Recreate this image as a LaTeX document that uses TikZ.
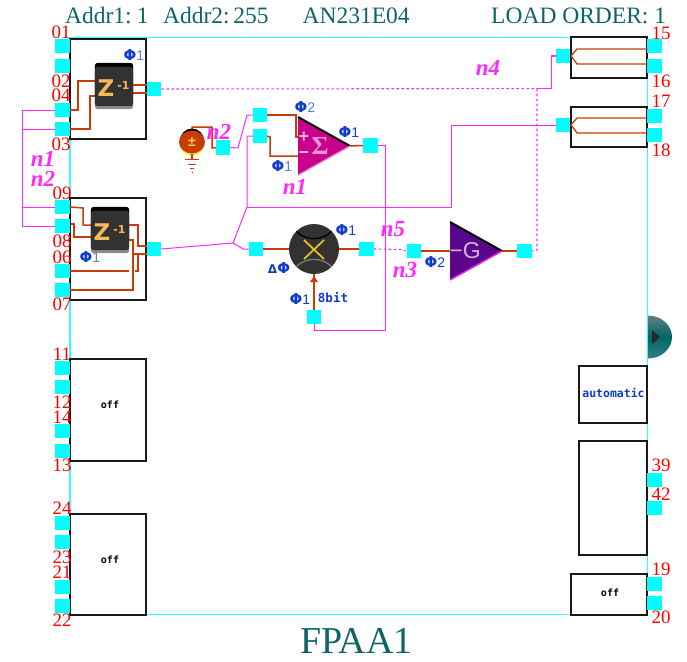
\documentclass[tikz,border=0pt]{standalone}
\usepackage{fontspec}
\setmainfont{Liberation Serif}
\newfontfamily\djv{DejaVu Sans}
\newfontfamily\djm{DejaVu Sans Mono}
\newfontfamily\lsans{Liberation Sans}
\usetikzlibrary{calc}
\definecolor{padc}{RGB}{0,255,255}
\definecolor{framec}{RGB}{50,255,255}
\definecolor{wirec}{RGB}{200,60,10}
\definecolor{netc}{RGB}{255,40,255}
\definecolor{tealc}{RGB}{15,100,105}
\definecolor{phic}{RGB}{15,60,200}
\definecolor{phid}{RGB}{90,125,220}
\definecolor{iconc}{RGB}{50,50,50}
\definecolor{zc}{RGB}{245,185,90}
\definecolor{sumc}{RGB}{200,0,140}
\definecolor{gainc}{RGB}{90,5,140}
\newcommand{\phil}[1]{{\djv\bfseries\fontsize{15}{15}\selectfont Φ}{\lsans\fontsize{14}{14}\selectfont #1}}
\tikzset{
 x=1pt,y=-1pt,
 pad/.style={fill=padc,minimum size=14.5pt,inner sep=0pt,outer sep=0pt,draw=none},
 blockbox/.style={draw=black!90,line width=1.4pt,fill=white,inner sep=0pt,outer sep=0pt},
 wire/.style={draw=wirec,line width=1.5pt},
 net/.style={draw=netc,line width=1pt},
 netdot/.style={draw=netc,line width=1.1pt,dash pattern=on 2.5pt off 2.5pt},
 pinl/.style={text=red,font=\fontsize{19}{19}\selectfont,inner sep=0pt},
 netl/.style={text=netc,font=\fontsize{23}{23}\selectfont\bfseries\itshape,inner sep=0pt},
 phil/.style={text=phic,inner sep=0pt},
 headl/.style={text=tealc,font=\fontsize{23.5}{23.5}\selectfont,inner sep=0pt,anchor=base west},
 offl/.style={text=black,font=\djm\bfseries\fontsize{10}{10}\selectfont,inner sep=0pt},
}
\begin{document}
\begin{tikzpicture}
\useasboundingbox (0,0) rectangle (687,661);
\fill[white] (0,0) rectangle (687,661);
% side ball
\coordinate (ballc) at (648,337);
\begin{scope}
\clip (648,315) rectangle (673,359);
\shade[top color=gray!80!teal,bottom color=gray!40!teal,middle color=teal!80!black] (ballc) ellipse [x radius=24,y radius=21.5];
\end{scope}
\fill[black!85] (652,330) -- (660,337) -- (652,344) -- cycle;
% frame
\draw[framec,line width=1.8pt] (70,37.5) rectangle (647.5,614.5);
% blocks
\node[blockbox,minimum width=76pt,minimum height=100pt] (b1) at (108,89) {};
\node[blockbox,minimum width=76pt,minimum height=102pt] (b2) at (108,249) {};
\node[blockbox,minimum width=76pt,minimum height=102pt] (b3) at (108,410) {};
\node[blockbox,minimum width=76pt,minimum height=101pt] (b4) at (108,564.5) {};
\node[blockbox,minimum width=76pt,minimum height=41pt] (b5) at (609,57.5) {};
\node[blockbox,minimum width=76pt,minimum height=40pt] (b6) at (609,127) {};
\node[blockbox,minimum width=68pt,minimum height=57pt] (b7) at (613,394.5) {};
\node[blockbox,minimum width=68pt,minimum height=114pt] (b8) at (613,498) {};
\node[blockbox,minimum width=76pt,minimum height=41pt] (b9) at (609,594.5) {};
% pads
\foreach \n/\y in {01/46,02/66,04/110,03/129,09/207,08/226,06/271,07/290,11/368,12/387,14/431,13/451,24/523,23/542,21/587,22/606}
  \node[pad] (p\n) at (62.5,\y) {};
\foreach \n/\y in {15/46,16/66,17/116,18/135,39/480,42/508,19/584,20/603}
  \node[pad] (p\n) at (654.5,\y) {};
\node[pad] (oz1) at (154,89) {};
\node[pad] (oz2) at (154,249) {};
\node[pad] (isrc) at (223,147.5) {};
\node[pad] (ia) at (260,115) {};
\node[pad] (ib) at (260,136) {};
\node[pad] (osum) at (370.5,145.5) {};
\node[pad] (imul) at (256,249) {};
\node[pad] (omul) at (366.5,249) {};
\node[pad] (bmul) at (314,317) {};
\node[pad] (ig) at (414,251) {};
\node[pad] (og) at (524.5,251) {};
\node[pad] (ir1) at (563,56) {};
\node[pad] (ir2) at (563,125) {};
% nets
\draw[net] (p04.west) -- (22,110) -- (22,226) -- (p08.west);
\draw[net] (p03.west) -- (22,129);
\draw[net] (p09.west) -- (22,207);
\coordinate (jn) at (233,243);
\coordinate (jt) at (247,207);
\draw[net] (oz2.east) -- (jn) -- (243,249) -- (imul.west);
\draw[net] (jn) -- (jt) -- (247,136) -- (ib.west);
\draw[net] (jt) -- (451,207) -- (451,125) -- (ir2.west);
\draw[net] (isrc.east) -- (238,148) -- (247,115) -- (ia.west);
\draw[net] (osum.east) -- (385,145.5) -- (385,330) -- (314,330) -- (bmul.south);
\draw[netdot] (oz1.east) -- (537,88.6);
\draw[net] (537,88.6) -- (551,88.6) -- (551,56) -- (ir1.west);
\draw[netdot] (537,88.6) -- (537,250) -- (og.east);
\draw[netdot] (omul.east) -- (402,249.5) -- (ig.west);
% red wiring block 1
\node[minimum width=38pt,minimum height=46pt,inner sep=0pt] (z1bg) at (114,86) {};
\draw[wire] (p04.east) -- (78,110) -- (78,81) -- (95,81);
\draw[wire] (p03.east) -- (90,129) -- (90,96) -- (95,96);
\draw[wire] (133,85) -- (oz1.west |- 0,85);
\draw[wire] (133,93) -- (oz1.west |- 0,93);
% block 2
\draw[wire] (p09.east) -- (83,208) -- (83,225) -- (92,225);
\draw[wire] (71,224) -- (74,224) -- (74,237) -- (92,237);
\draw[wire] (129,225) -- (138,225) -- (138,246) -- (147,246);
\draw[wire] (129,240) -- (133,240) -- (133,290) -- (p07.east);
\draw[wire] (133,254) -- (147,254);
\draw[wire] (p06.east) -- (129,271);
\draw[wire] (135,271) -- (138,271) -- (138,254);
\node[minimum width=38pt,minimum height=46pt,inner sep=0pt] (z2bg) at (110,230) {};
\foreach \c in {z1bg,z2bg}{
 \fill[black,rounded corners=3pt] (\c.north west) rectangle ($(\c.south east)+(0,-10)$);
 \fill[gray!90,rounded corners=3pt] ($(\c.north west)+(0,8)$) rectangle (\c.south east);
 \fill[iconc,rounded corners=3pt] ($(\c.north west)+(0,4)$) rectangle ($(\c.south east)+(0,-3)$);
 \node[text=zc,font=\djv\bfseries\fontsize{23}{23}\selectfont,inner sep=0pt] at ($(\c.center)+(-8,2.5)$) {Z};
 \node[text=zc,font=\djv\bfseries\fontsize{11}{11}\selectfont,inner sep=0pt] at ($(\c.center)+(9.5,-1)$) {-1};
}
% right block wiring
\coordinate (r1) at (571,56);
\coordinate (r2) at (571,125);
\draw[wire,line width=1.3pt] (p15.west |- 0,49) -- (577,49) -- (r1) -- (577,64) -- (p16.west |- 0,64);
\draw[wire,line width=1.3pt] (p17.west |- 0,118) -- (577,118) -- (r2) -- (577,133) -- (p18.west |- 0,133);
% source
\coordinate (srcc) at (192,142);
\draw[wire] (192,130) -- (192,127) -- (212,127) -- (212,148) -- (isrc.west);
\fill[black] (srcc) ++(0,-1.5) circle (12);
\fill[yellow] (srcc) ++(0,1.5) circle (12);
\fill[wirec] (srcc) ellipse (13 and 11.5);
\node[text=yellow!75!orange,font=\lsans\bfseries\fontsize{14}{14}\selectfont,inner sep=0pt] at (srcc) {±};
\draw[wire] (192,154) -- (192,159);
\draw[wire,line width=1pt] (185,159.5) -- (199,159.5) (188,164) -- (196,164) (190,168) -- (194,168) (191.5,172) -- (192.5,172);
% sum
\coordinate (sA) at (298,117);
\coordinate (sB) at (298,175);
\coordinate (sC) at (350,146);
\draw[wire] (ia.east) -- (296,115) -- (296,137) -- (298,137);
\draw[wire] (ib.east) -- (270,137) -- (270,156) -- (298,156);
\draw[wire] (sC) -- (osum.west);
\fill[sumc] (sA) -- (sC) -- (sB) -- cycle;
\draw[black,line width=2pt] (sA) -- (sC);
\draw[sumc!50!white,line width=1.2pt] (sB) -- (sC);
\node[text=white!70!sumc,font=\lsans\bfseries\fontsize{18}{18}\selectfont,inner sep=0pt] at (304,137) {+};
\node[text=white!70!sumc,font=\lsans\bfseries\fontsize{18}{18}\selectfont,inner sep=0pt] at (304,155) {−};
\node[text=white!60!sumc,font=\bfseries\fontsize{26}{26}\selectfont,inner sep=0pt] at (320,146) {Σ};
% multiplier
\node[circle,fill=iconc,minimum size=50pt,inner sep=0pt,outer sep=0pt] (mul) at (314,249) {};
\draw[wire] (imul.east) -- (mul.west);
\draw[wire] (mul.east) -- (omul.west);
\draw[wire] (bmul.north) -- (mul.south);
\fill[wirec] (314,276) -- (310,282) -- (318,282) -- cycle;
\draw[gray,line width=1.2pt] (mul.south west) arc [start angle=225,end angle=315,radius=25];
\draw[black,line width=1.4pt] (mul.north west) arc [start angle=135,end angle=45,radius=25];
\draw[yellow!65!orange!90!black,line width=1.8pt] (304,240) -- (324,259) (324,240) -- (304,259);
% gain
\coordinate (gA) at (450,222);
\coordinate (gB) at (450,280);
\coordinate (gC) at (502,251);
\draw[wire] (ig.east) -- (451,251);
\draw[wire] (gC) -- (og.west);
\fill[gainc] (gA) -- (gC) -- (gB) -- cycle;
\draw[black,line width=2pt] (gA) -- (gC);
\draw[netc!90!black,line width=1.5pt] (gB) -- (gC);
\node[text=white!70!gainc,font=\lsans\fontsize{23}{23}\selectfont,inner sep=0pt] at (465,251) {−G};
% pin labels
\foreach \n/\x/\y in {01/61/32,02/61/81,04/61/95,03/61/144,09/62/193,08/62/241,06/62/257,07/62/304,11/62/354,12/62/402,14/62/417,13/62/465,24/62/508,23/62/557,21/62/572,22/62/620,15/661/33,16/661/81,17/661/101,18/661/150,39/661/465,42/661/494,19/661/569,20/661/617}
  \node[pinl] (t\n) at (\x,\y) {\n};
% net labels
\node[netl] (ln1a) at (43,159) {n1};
\node[netl] (ln2a) at (43,179) {n2};
\node[netl] (ln2b) at (219,132) {n2};
\node[netl] (ln1b) at (295,187) {n1};
\node[netl] (ln5) at (393,229) {n5};
\node[netl] (ln3) at (405,270) {n3};
\node[netl] (ln4) at (488,68) {n4};
% clocks
\node[phil] (c1) at (134,55) {\phil{\textcolor{phid}{1}}};
\node[phil] (c2) at (90,257) {\phil{\textcolor{phid}{1}}};
\node[phil] (c3) at (305,107) {\phil{\textcolor{phid}{2}}};
\node[phil] (c4) at (349,132) {\phil{1}};
\node[phil] (c5) at (282,166) {\phil{\textcolor{phid}{1}}};
\node[phil] (c6) at (346,230) {\phil{1}};
\node[phil] (c7) at (279,268) {{\djv\bfseries\fontsize{12}{12}\selectfont Δ}{\djv\bfseries\fontsize{15}{15}\selectfont Φ}};
\node[phil] (c8) at (300,299) {\phil{1}};
\node[phil,font=\djm\bfseries\fontsize{12.5}{12.5}\selectfont] (c9) at (333,298) {8bit};
\node[phil] (c10) at (435,262) {\phil{2}};
% off / automatic
\node[offl] (of1) at (110,405) {off};
\node[offl] (of2) at (110,560) {off};
\node[offl] (of3) at (610,593) {off};
\node[offl,text=phic,font=\djm\bfseries\fontsize{11.5}{11.5}\selectfont] (au) at (613.5,393) {automatic};
% headings
\node[headl] (h1) at (65,23.5) {Addr1:\hspace{5pt}1};
\node[headl] (h2) at (163,23.5) {Addr2:\hspace{3.5pt}255};
\node[headl] (h3) at (302.5,23.5) {AN231E04};
\node[headl] (h4) at (491,23.5) {LOAD ORDER: 1};
\node[text=tealc,font=\fontsize{38}{38}\selectfont,inner sep=0pt,anchor=base] (h5) at (356.5,653) {FPAA1};
\end{tikzpicture}
\end{document}
